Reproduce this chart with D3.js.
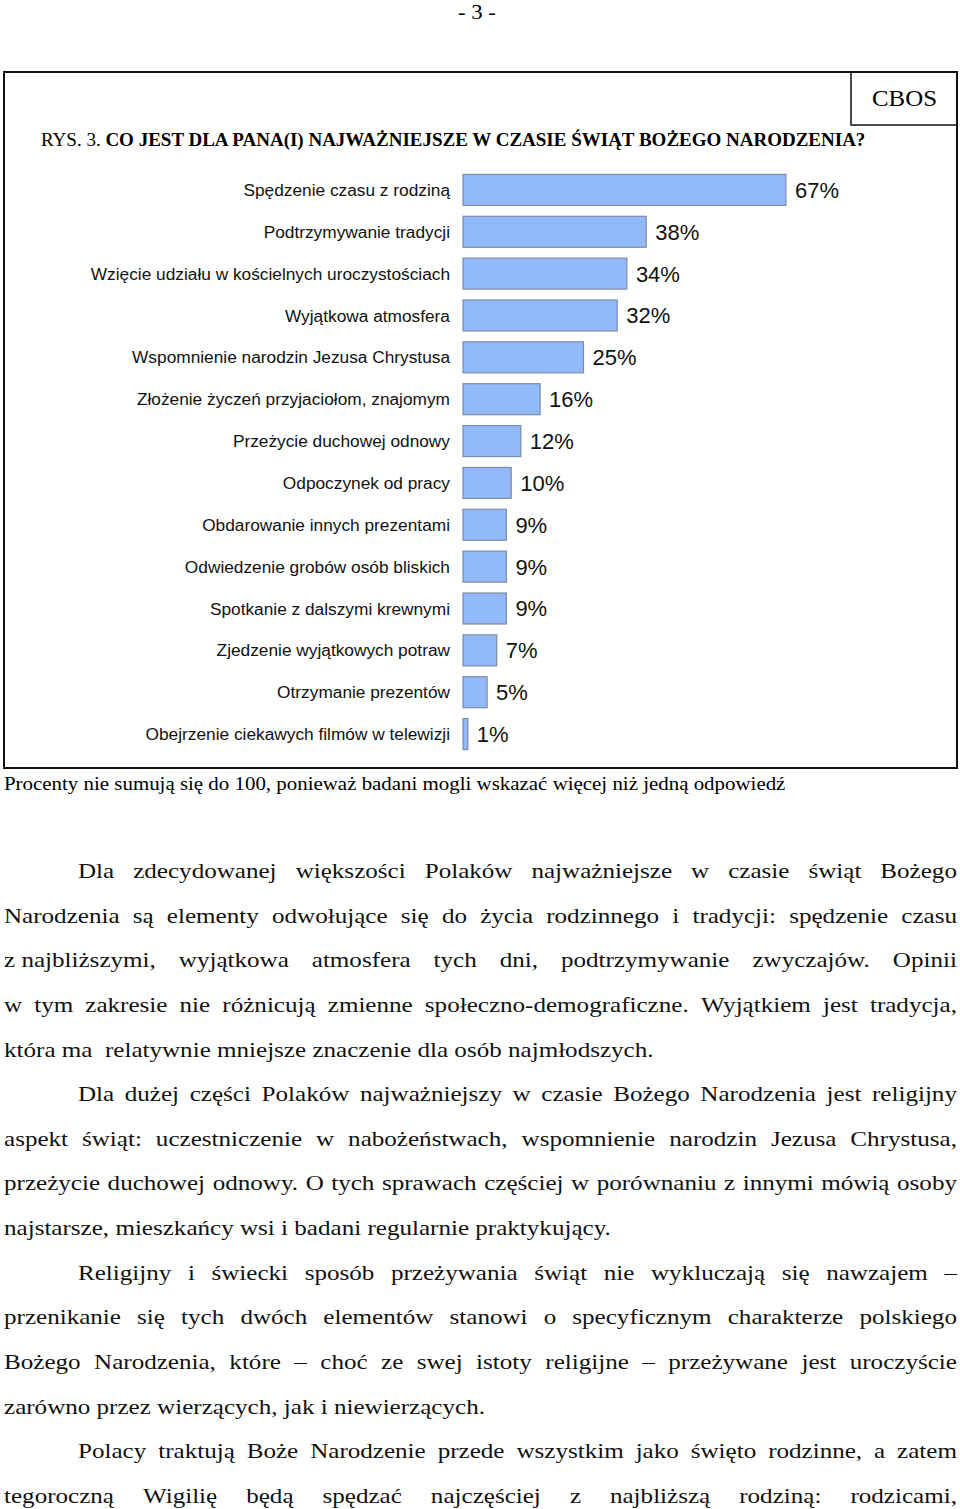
<!DOCTYPE html>
<html><head><meta charset="utf-8">
<script src="https://cdn.jsdelivr.net/npm/d3@7"></script>
<style>html,body{margin:0;padding:0;background:#fff;}svg{display:block;}</style>
</head><body>
<svg id="c" width="960" height="1509"></svg>
<script>
const categories = [
  "Spędzenie czasu z rodziną",
  "Podtrzymywanie tradycji",
  "Wzięcie udziału w kościelnych uroczystościach",
  "Wyjątkowa atmosfera",
  "Wspomnienie narodzin Jezusa Chrystusa",
  "Złożenie życzeń przyjaciołom, znajomym",
  "Przeżycie duchowej odnowy",
  "Odpoczynek od pracy",
  "Obdarowanie innych prezentami",
  "Odwiedzenie grobów osób bliskich",
  "Spotkanie z dalszymi krewnymi",
  "Zjedzenie wyjątkowych potraw",
  "Otrzymanie prezentów",
  "Obejrzenie ciekawych filmów w telewizji"
];
const values = [67, 38, 34, 32, 25, 16, 12, 10, 9, 9, 9, 7, 5, 1];
const pageNumber = "- 3 -";
const titlePrefix = "RYS. 3. ";
const titleMain = "CO JEST DLA PANA(I) NAJWAŻNIEJSZE W CZASIE ŚWIĄT BOŻEGO NARODZENIA?";
const sourceLabel = "CBOS";
const footnote = "Procenty nie sumują się do 100, ponieważ badani mogli wskazać więcej niż jedną odpowiedź";
const paragraph1 = [
  "Dla zdecydowanej większości Polaków najważniejsze w czasie świąt Bożego",
  "Narodzenia są elementy odwołujące się do życia rodzinnego i tradycji: spędzenie czasu",
  "z\u00a0najbliższymi, wyjątkowa atmosfera tych dni, podtrzymywanie zwyczajów. Opinii",
  "w tym zakresie nie różnicują zmienne społeczno-demograficzne. Wyjątkiem jest tradycja,",
  "która ma  relatywnie mniejsze znaczenie dla osób najmłodszych."
];
const paragraph2 = [
  "Dla dużej części Polaków najważniejszy w czasie Bożego Narodzenia jest religijny",
  "aspekt świąt: uczestniczenie w nabożeństwach, wspomnienie narodzin Jezusa Chrystusa,",
  "przeżycie duchowej odnowy. O tych sprawach częściej w porównaniu z innymi mówią osoby",
  "najstarsze, mieszkańcy wsi i badani regularnie praktykujący."
];
const paragraph3 = [
  "Religijny i świecki sposób przeżywania świąt nie wykluczają się nawzajem –",
  "przenikanie się tych dwóch elementów stanowi o specyficznym charakterze polskiego",
  "Bożego Narodzenia, które – choć ze swej istoty religijne – przeżywane jest uroczyście",
  "zarówno przez wierzących, jak i niewierzących."
];
const paragraph4 = [
  "Polacy traktują Boże Narodzenie przede wszystkim jako święto rodzinne, a zatem",
  "tegoroczną Wigilię będą spędzać najczęściej z najbliższą rodziną: rodzicami,"
];

const svg = d3.select("#c");
const SERIF = "'Liberation Serif','Times New Roman',serif";
const SANS = "'Liberation Sans',Arial,sans-serif";

function fitWidth(sel, x0, w) {
  const n = sel.node().getComputedTextLength();
  const s = w / n;
  sel.attr("transform", `translate(${x0},0) scale(${s},1) translate(${-x0},0)`);
  return s;
}

// page number
const pn = svg.append("text").attr("x", 458).attr("y", 19)
  .attr("font-family", SERIF).attr("font-size", 20).text(pageNumber);
fitWidth(pn, 458, 38);

// outer box
svg.append("rect").attr("x", 4).attr("y", 72).attr("width", 953).attr("height", 696)
  .attr("fill", "none").attr("stroke", "#111").attr("stroke-width", 2);
svg.append("rect").attr("x", 851).attr("y", 72).attr("width", 106).attr("height", 53)
  .attr("fill", "none").attr("stroke", "#111").attr("stroke-width", 1.5);
const cb = svg.append("text").attr("x", 872).attr("y", 106)
  .attr("font-family", SERIF).attr("font-size", 24).text(sourceLabel);
fitWidth(cb, 872, 65);

// title
const tt = svg.append("text").attr("x", 41).attr("y", 146)
  .attr("font-family", SERIF).attr("font-size", 18);
tt.append("tspan").text(titlePrefix);
tt.append("tspan").attr("font-weight", "bold").text(titleMain);
fitWidth(tt, 41, 825);

// chart
const x = d3.scaleLinear().domain([0, 100]).range([463, 945]);
const y = d3.scaleBand().domain(categories).range([169, 755])
  .paddingInner(0.26).paddingOuter(0.13);
const data = categories.map((c, i) => ({c, v: values[i]}));

const g = svg.append("g");
g.selectAll("rect.bar").data(data).join("rect").attr("class", "bar")
  .attr("x", x(0)).attr("y", d => y(d.c))
  .attr("width", d => x(d.v) - x(0)).attr("height", y.bandwidth())
  .attr("fill", "#92b9fa").attr("stroke", "#7d8ca6").attr("stroke-width", 1.2);

g.selectAll("text.lab").data(data).join("text").attr("class", "lab")
  .attr("x", 450).attr("y", d => y(d.c) + y.bandwidth() / 2)
  .attr("dy", "0.35em").attr("text-anchor", "end")
  .attr("font-family", SANS).attr("font-size", 17.3).attr("fill", "#111")
  .text(d => d.c);

g.selectAll("text.val").data(data).join("text").attr("class", "val")
  .attr("x", d => x(d.v) + 9).attr("y", d => y(d.c) + y.bandwidth() / 2)
  .attr("dy", "0.36em")
  .attr("font-family", SANS).attr("font-size", 22).attr("fill", "#111")
  .text(d => d.v + "%");

// footnote
const fn = svg.append("text").attr("x", 4).attr("y", 790)
  .attr("font-family", SERIF).attr("font-size", 19).text(footnote);
fitWidth(fn, 4, 782);

// body text
const BODY_FS = 22;
const lineY0 = 878, lineStep = 44.63;
const paragraphs = [paragraph1, paragraph2, paragraph3, paragraph4];
const lastWidths = [651, 608, 480, null];
const body = svg.append("g").attr("font-family", SERIF).attr("font-size", BODY_FS).attr("fill", "#111");

// calibrate horizontal scale from paragraph end lines
let scales = [];
paragraphs.forEach((p, pi) => {
  if (lastWidths[pi]) {
    const t = body.append("text").attr("x", 0).attr("y", -100).attr("xml:space", "preserve").text(p[p.length - 1]);
    scales.push(lastWidths[pi] / t.node().getComputedTextLength());
    t.remove();
  }
});
const sx = d3.mean(scales);

let li = 0;
paragraphs.forEach((p, pi) => {
  p.forEach((line, k) => {
    const yy = lineY0 + lineStep * li;
    const x0 = k === 0 ? 78 : 4;
    const isLast = (k === p.length - 1) && lastWidths[pi] !== null;
    if (isLast) {
      body.append("text").attr("xml:space", "preserve")
        .attr("transform", `translate(${x0},${yy}) scale(${sx},1)`).text(line);
    } else {
      const words = line.split(" ").filter(w => w.length);
      const ts = words.map(w => body.append("text").text(w));
      const ws = ts.map(t => t.node().getComputedTextLength() * sx);
      const total = d3.sum(ws);
      const gap = (957 - x0 - total) / (words.length - 1);
      let pos = x0;
      ts.forEach((t, i) => {
        t.attr("transform", `translate(${pos},${yy}) scale(${sx},1)`);
        pos += ws[i] + gap;
      });
    }
    li++;
  });
});
</script>
</body></html>
